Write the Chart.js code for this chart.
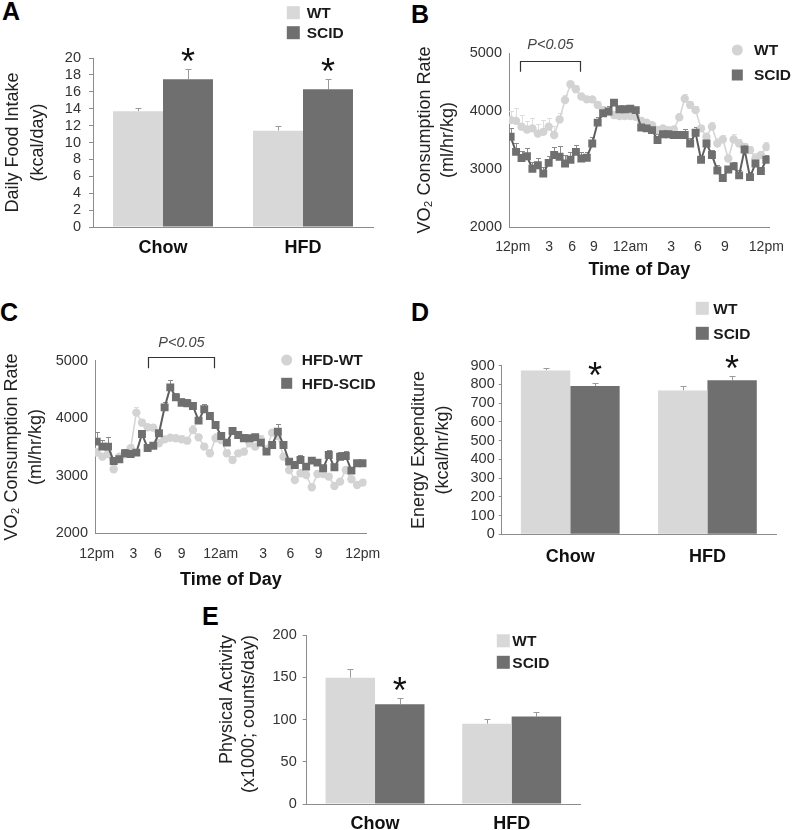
<!DOCTYPE html>
<html><head><meta charset="utf-8">
<script src="https://cdn.jsdelivr.net/npm/chart.js@4.4.1/dist/chart.umd.min.js"></script>
<style>
html,body{margin:0;padding:0;background:#fff;width:796px;height:830px;overflow:hidden;position:relative}
canvas{position:absolute}
.lbl{position:absolute;font:bold 25px "Liberation Sans",Arial,sans-serif;line-height:25px;color:#000}
</style></head><body>
<div class="lbl" style="left:2px;top:-1px">A</div>
<div class="lbl" style="left:411px;top:2px">B</div>
<div class="lbl" style="left:0px;top:300px">C</div>
<div class="lbl" style="left:411px;top:300px">D</div>
<div class="lbl" style="left:202px;top:604px">E</div>
<canvas id="cA" width="400" height="300" style="left:0;top:0"></canvas>
<canvas id="cB" width="396" height="300" style="left:400px;top:0"></canvas>
<canvas id="cC" width="400" height="300" style="left:0;top:300px"></canvas>
<canvas id="cD" width="396" height="300" style="left:400px;top:300px"></canvas>
<canvas id="cE" width="400" height="230" style="left:200px;top:600px"></canvas>
<script>
// ---------------- data ----------------
const groups = ['Chow', 'HFD'];
const seriesNames = ['WT', 'SCID'];
const seriesNamesHFD = ['HFD-WT', 'HFD-SCID'];

// A: Daily food intake (kcal/day)
const foodWT = [13.7, 11.4];
const foodWTErr = [0.35, 0.6];
const foodSCID = [17.5, 16.3];
const foodSCIDErr = [1.2, 1.2];
const foodSig = [true, true];

// D: Energy expenditure (kcal/hr/kg)
const eeWT = [875, 768];
const eeWTErr = [11, 23];
const eeSCID = [791, 822];
const eeSCIDErr = [18, 21];
const eeSig = [true, true];

// E: Physical activity (x1000 counts/day)
const actWT = [149.5, 95];
const actWTErr = [10, 6];
const actSCID = [118, 103.5];
const actSCIDErr = [8, 5];
const actSig = [true, false];

// B/C: time axis labels (48 half-hour samples, index 0..47)
const timeTickLabels = ['12pm', '3', '6', '9', '12am', '3', '6', '9', '12pm'];
const timeTickPosB = [0.4, 7.1, 11.3, 15.3, 22, 29.5, 34.4, 39.4, 47];
const timeTickPosC = [0, 6.5, 10.8, 15, 21.9, 29.4, 34.2, 39.2, 47];

// B: Chow VO2
const vo2ChowWT = [3845,3830,3730,3680,3700,3610,3640,3730,3585,3855,4190,4460,4375,4250,4200,4200,4105,4015,3990,3930,3915,3915,3915,3900,3830,3800,3755,3670,3700,3670,3680,3890,4210,4105,4015,3700,3555,3730,3440,3510,3180,3510,3440,3380,3325,3180,3240,3380];
const vo2ChowWTErr = [150,230,200,150,180,160,200,150,150,110,80,60,70,60,50,60,60,70,60,50,60,50,50,60,70,50,60,70,60,50,60,70,80,60,70,60,70,80,90,80,70,90,80,70,80,90,70,80];
const vo2ChowSCID = [3555,3295,3190,3220,3005,3065,2920,3105,3240,3210,3095,3160,3295,3180,3195,3440,3800,3960,3990,4145,4030,4030,4040,4015,3715,3700,3670,3500,3600,3600,3585,3585,3585,3440,3625,3160,3440,3240,2975,2845,2990,3045,2890,3335,2860,3095,2965,3160];
const vo2ChowSCIDErr = [144,150,115,150,115,130,115,125,140,190,145,130,120,105,105,105,105,105,90,70,60,60,60,60,70,60,70,100,80,70,70,70,100,90,100,70,100,80,90,70,60,80,90,90,80,70,60,80];
const sigSpanB = [1.7, 12.8];

// C: HFD VO2
const vo2HfdWT = [3402,3332,3379,3112,3332,3373,3477,4097,3923,3842,3836,3564,3633,3662,3651,3633,3610,3796,3668,3506,3390,3651,3622,3390,3274,3390,3419,3564,3506,3633,3460,3749,3691,3332,3101,2927,3043,3014,2800,3031,3031,2985,2823,2898,3101,2939,2840,2881];
const vo2HfdWTErr = [80,60,70,60,70,60,80,90,70,60,60,70,60,60,60,70,60,80,60,60,70,90,60,70,60,60,70,60,60,70,60,70,60,60,70,60,60,70,60,70,60,60,70,60,70,60,60,60];
const vo2HfdSCID = [3593,3506,3506,3257,3286,3390,3379,3402,3726,3483,3523,3738,4189,4537,4363,4270,4259,4213,3958,4155,4039,3882,3691,3576,3778,3709,3651,3651,3668,3576,3419,3535,3767,3535,3246,3188,3274,3159,3263,3228,3130,3361,3147,3332,3344,3089,3217,3217];
const vo2HfdSCIDErr = [170,110,170,60,70,80,80,70,60,60,70,60,90,120,80,80,70,60,60,90,70,60,50,60,60,60,70,60,60,70,60,60,140,60,70,70,80,60,70,60,60,90,60,80,90,60,60,50];
const sigSpanC = [9.1, 20.7];

// ---------------- styling ----------------
const FONT = '"Liberation Sans", Arial, Helvetica, sans-serif';
const C_LIGHT = '#d8d8d8';
const C_DARK = '#6f6f6f';
const C_AXIS = '#8c8c8c';
const C_TEXT = '#333333';

// ---------------- plugins ----------------
const errorBars = {
  id: 'errorBars',
  beforeDatasetsDraw(chart) {
    const ctx = chart.ctx, ys = chart.scales.y;
    chart.data.datasets.forEach((ds, di) => {
      if (!ds.errors) return;
      const meta = chart.getDatasetMeta(di);
      ctx.save();
      ctx.strokeStyle = ds.errorColor || '#999';
      ctx.lineWidth = 1;
      meta.data.forEach((el, i) => {
        const d = ds.data[i];
        const v = (typeof d === 'object') ? d.y : d;
        const top = Math.round(ys.getPixelForValue(v + ds.errors[i])) + 0.5;
        const x = Math.round(el.x) + 0.5;
        ctx.beginPath();
        ctx.moveTo(x, el.y); ctx.lineTo(x, top);
        ctx.moveTo(x - ds.capHalf, top); ctx.lineTo(x + ds.capHalf, top);
        ctx.stroke();
      });
      ctx.restore();
    });
  }
};

const stars = {
  id: 'stars',
  afterDatasetsDraw(chart, args, opts) {
    if (!opts.marks) return;
    const ctx = chart.ctx, ys = chart.scales.y;
    const ds = chart.data.datasets[opts.datasetIndex];
    const meta = chart.getDatasetMeta(opts.datasetIndex);
    ctx.save();
    ctx.fillStyle = '#111';
    ctx.font = '36px ' + FONT;
    ctx.textAlign = 'center';
    ctx.textBaseline = 'alphabetic';
    opts.marks.forEach((m, i) => {
      if (!m) return;
      const top = ys.getPixelForValue(ds.data[i] + ds.errors[i]);
      ctx.fillText('*', meta.data[i].x, top + 5);
    });
    ctx.restore();
  }
};

const customLegend = {
  id: 'customLegend',
  afterDraw(chart, args, opts) {
    if (!opts.items) return;
    const ctx = chart.ctx;
    ctx.save();
    opts.items.forEach(it => {
      ctx.fillStyle = it.color;
      if (it.shape === 'circle') {
        ctx.beginPath(); ctx.arc(it.x, it.y, it.size / 2, 0, Math.PI * 2); ctx.fill();
      } else {
        ctx.fillRect(it.x - it.size / 2, it.y - it.size / 2, it.size, it.size);
      }
      ctx.fillStyle = '#1a1a1a';
      ctx.font = 'bold ' + (opts.fontSize || 15) + 'px ' + FONT;
      ctx.textAlign = 'left';
      ctx.textBaseline = 'middle';
      ctx.fillText(it.text, opts.textX, it.y + 1);
    });
    ctx.restore();
  }
};

const bracket = {
  id: 'bracket',
  afterDraw(chart, args, opts) {
    if (!opts.span) return;
    const ctx = chart.ctx, xs = chart.scales.x, ys = chart.scales.y;
    const x0 = Math.round(xs.getPixelForValue(opts.span[0])) + 0.5;
    const x1 = Math.round(xs.getPixelForValue(opts.span[1])) + 0.5;
    const yt = Math.round(ys.getPixelForValue(opts.top)) + 0.5;
    const yb = ys.getPixelForValue(opts.tip);
    ctx.save();
    ctx.strokeStyle = '#333'; ctx.lineWidth = 1.2;
    ctx.beginPath();
    ctx.moveTo(x0, yb); ctx.lineTo(x0, yt); ctx.lineTo(x1, yt); ctx.lineTo(x1, yb);
    ctx.stroke();
    ctx.fillStyle = '#444';
    ctx.font = 'italic 14.5px ' + FONT;
    ctx.textAlign = 'center'; ctx.textBaseline = 'middle';
    ctx.fillText(opts.text, (x0 + x1) / 2, ys.getPixelForValue(opts.textY));
    ctx.restore();
  }
};

Chart.register(errorBars, stars, customLegend, bracket);

const plainNum = v => String(v);

// ---------------- builders ----------------
function barChart(id, wt, wtErr, scid, scidErr, sig, g) {
  return new Chart(document.getElementById(id), {
    type: 'bar',
    data: {
      labels: groups,
      datasets: [
        { label: seriesNames[0], data: wt, errors: wtErr, errorColor: '#9a9a9a', capHalf: 3,
          backgroundColor: C_LIGHT, borderWidth: 0, categoryPercentage: g.cat, barPercentage: 1.0 },
        { label: seriesNames[1], data: scid, errors: scidErr, errorColor: '#9a9a9a', capHalf: 3,
          backgroundColor: C_DARK, borderWidth: 0, categoryPercentage: g.cat, barPercentage: 1.0 }
      ]
    },
    options: {
      responsive: false, animation: false, devicePixelRatio: 1,
      layout: { padding: { left: 0, top: g.top, right: g.right, bottom: 0 } },
      plugins: {
        legend: { display: false }, tooltip: { enabled: false },
        stars: { marks: sig, datasetIndex: 1 },
        customLegend: { textX: g.legX, fontSize: 15.5, items: [
          { shape: 'square', x: g.legSqX, y: g.legY[0], size: 13, color: C_LIGHT, text: seriesNames[0] },
          { shape: 'square', x: g.legSqX, y: g.legY[1], size: 13, color: C_DARK, text: seriesNames[1] }
        ] }
      },
      scales: {
        x: {
          afterFit: s => { s.height = g.xH; },
          grid: { display: false, drawTicks: false, tickLength: 0 },
          border: { display: true, color: C_AXIS, width: 1 },
          ticks: { padding: g.xPad, color: '#111', font: { family: FONT, size: 18, weight: 'bold' } }
        },
        y: {
          afterFit: s => { s.width = g.yW; },
          min: g.min, max: g.max,
          grid: { display: true, drawOnChartArea: false, drawTicks: true, tickLength: g.tick, color: C_AXIS },
          border: { display: true, color: C_AXIS, width: 1 },
          ticks: { stepSize: g.step, autoSkip: false, padding: g.yPad, color: C_TEXT,
                   font: { family: FONT, size: 14.5 }, callback: plainNum },
          title: { display: true, text: g.title, color: '#222', align: g.tAlign || 'center',
                   font: { family: FONT, size: 18, lineHeight: g.tLH }, padding: { top: g.tPad, bottom: 0 } }
        }
      }
    }
  });
}

function lineChart(id, wt, wtErr, scid, scidErr, names, tickPos, span, g) {
  const pts = arr => arr.map((v, i) => ({ x: i, y: v }));
  return new Chart(document.getElementById(id), {
    type: 'line',
    data: {
      datasets: [
        { label: names[1], data: pts(scid), errors: scidErr, errorColor: '#8a8a8a', capHalf: 2.5, order: 0,
          borderColor: '#5e5e5e', borderWidth: 2, backgroundColor: C_DARK,
          pointStyle: 'rect', pointRadius: 5.6, pointBorderWidth: 0, pointBackgroundColor: C_DARK, tension: 0 },
        { label: names[0], data: pts(wt), errors: wtErr, errorColor: '#dedede', capHalf: 2.5, order: 1,
          borderColor: '#d6d6d6', borderWidth: 1.6, backgroundColor: '#d3d3d3',
          pointStyle: 'circle', pointRadius: 4.2, pointBorderWidth: 0, pointBackgroundColor: '#d3d3d3', tension: 0 }
      ]
    },
    options: {
      responsive: false, animation: false, devicePixelRatio: 1,
      layout: { padding: { left: 0, top: g.top, right: g.right, bottom: 0 } },
      plugins: {
        legend: { display: false }, tooltip: { enabled: false },
        customLegend: { textX: g.legX, fontSize: g.legFont, items: [
          { shape: 'circle', x: g.legSymX, y: g.legY[0], size: 11, color: '#d3d3d3', text: names[0] },
          { shape: 'square', x: g.legSymX, y: g.legY[1], size: 11, color: C_DARK, text: names[1] }
        ] },
        bracket: { span: span, top: g.brTop, tip: g.brTip, text: 'P<0.05', textY: g.brText }
      },
      scales: {
        x: {
          type: 'linear', min: g.xmin, max: g.xmax,
          afterFit: s => { s.height = g.xH; },
          afterBuildTicks: s => { s.ticks = tickPos.map(v => ({ value: v })); },
          grid: { display: false, drawTicks: false, tickLength: 0 },
          border: { display: true, color: C_AXIS, width: 1 },
          ticks: { autoSkip: false, maxRotation: 0, padding: g.xPad, color: C_TEXT,
                   font: { family: FONT, size: 14 }, callback: (v, i) => timeTickLabels[i] },
          title: { display: true, text: 'Time of Day', color: '#111',
                   font: { family: FONT, size: 18, weight: 'bold' }, padding: { top: 0, bottom: g.xtPad } }
        },
        y: {
          min: 2000, max: 5000,
          afterFit: s => { s.width = g.yW; },
          grid: { display: false, drawTicks: false, tickLength: 0 },
          border: { display: true, color: C_AXIS, width: 1 },
          ticks: { stepSize: 1000, autoSkip: false, padding: 7, color: C_TEXT,
                   font: { family: FONT, size: 14.5 }, callback: plainNum },
          title: { display: true, text: ['VO\u2082 Consumption Rate', '(ml/hr/kg)'], color: '#222',
                   font: { family: FONT, size: 18, lineHeight: g.tLH }, padding: { top: g.tPad, bottom: 0 } }
        }
      }
    }
  });
}

// ---------------- charts ----------------
barChart('cA', foodWT, foodWTErr, foodSCID, foodSCIDErr, foodSig, {
  top: 58, right: 27, yW: 93, xH: 73, cat: 0.714, min: 0, max: 20, step: 2, tick: 4, yPad: 8, xPad: 10.5,
  title: ['Daily Food Intake', '(kcal/day)'], tLH: 1.42, tPad: 0,
  legX: 306.7, legSqX: 293.3, legY: [12.7, 32.7]
});

lineChart('cB', vo2ChowWT, vo2ChowWTErr, vo2ChowSCID, vo2ChowSCIDErr, seriesNames, timeTickPosB, sigSpanB, {
  top: 53, right: 13, yW: 109, xH: 73, xmin: -0.3, xmax: 47.6, xPad: 12, xtPad: 19.2,
  tLH: 1.26, tPad: 13.6, legX: 354, legSymX: 337.3, legY: [50, 75], legFont: 15.5,
  brTop: 4862, brTip: 4678, brText: 5138
});

lineChart('cC', vo2HfdWT, vo2HfdWTErr, vo2HfdSCID, vo2HfdSCIDErr, seriesNamesHFD, timeTickPosC, sigSpanC, {
  top: 60.7, right: 33.3, yW: 95, xH: 66.7, xmin: -0.3, xmax: 47.7, xPad: 12.6, xtPad: 9.2,
  tLH: 1.33, tPad: 0, legX: 301.7, legSymX: 286.7, legY: [60, 83.3], legFont: 15.5,
  brTop: 5059, brTip: 4868, brText: 5302
});

barChart('cD', eeWT, eeWTErr, eeSCID, eeSCIDErr, eeSig, {
  top: 65.7, right: 20, yW: 101.7, xH: 65.7, cat: 0.72, min: 0, max: 900, step: 100, tick: 3, yPad: 4, xPad: 12,
  title: ['Energy Expenditure', '(kcal/hr/kg)'], tLH: 1.33, tPad: 7,
  legX: 313.3, legSqX: 302.3, legY: [8.3, 33.3]
});

barChart('cE', actWT, actWTErr, actSCID, actSCIDErr, actSig, {
  top: 35, right: 20, yW: 106.7, xH: 26, cat: 0.724, min: 0, max: 200, step: 50, tick: 4, yPad: 6, xPad: 9,
  title: ['Physical Activity', '(x1000; counts/day)'], tLH: 1.24, tPad: 15.5, tAlign: 'end',
  legX: 312.3, legSqX: 303.3, legY: [40.8, 62.3]
});
</script>
</body></html>
